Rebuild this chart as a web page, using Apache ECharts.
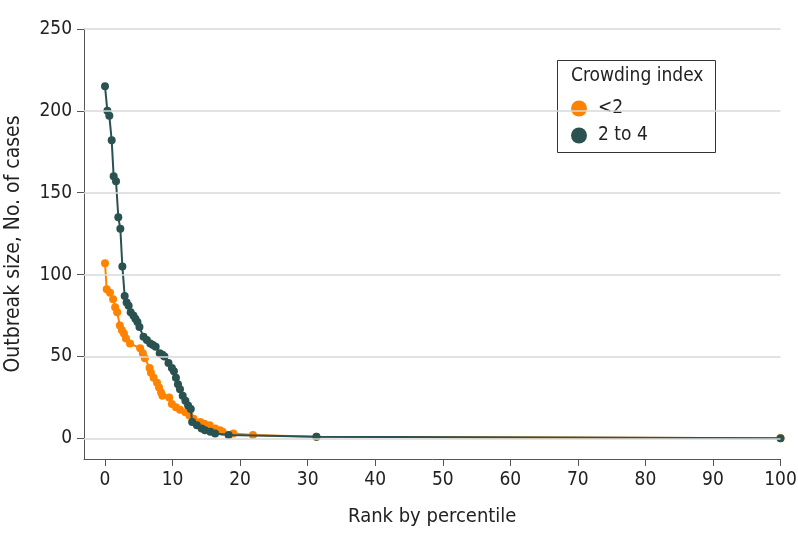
<!DOCTYPE html>
<html><head><meta charset="utf-8">
<script src="https://cdn.jsdelivr.net/npm/echarts@6/dist/echarts.min.js"></script>
<style>html,body{margin:0;padding:0;background:#fff}#c{width:798px;height:545px}</style>
</head><body><div id="c"></div>
<script>
const FONT = "'DejaVu Sans Condensed','Liberation Sans Narrow','Roboto',sans-serif";
const seriesNames = ['<2', '2 to 4'];
const colors = ['#FF8300', '#2A5250'];
const xTicks = [0,10,20,30,40,50,60,70,80,90,100];
const yTicks = [0,50,100,150,200,250];

const lowX = [0,0.25,0.74,1.2,1.5,1.8,2.2,2.5,2.8,3.1,3.7,5.2,5.6,5.9,6.6,6.8,7.2,7.7,8.0,8.3,8.5,9.5,9.9,10.5,11.1,11.9,12.5,13.1,14.1,14.7,15.5,16.3,17.0,17.4,19.0,21.9,31.3,100];
const lowY = [107,91,89,85,80,77,69,66,64,61,58,55,52,49,43,40,37,34,31,28,26,25,21,19,17.5,16,14,12,10,9,8,6,5,4,3,2,1,0];

const highX = [0,0.35,0.64,0.99,1.28,1.63,1.97,2.27,2.57,2.91,3.2,3.5,3.8,4.2,4.5,4.8,5.1,5.7,6.2,6.7,7.1,7.5,8.1,8.5,8.8,9.4,9.9,10.2,10.5,10.8,11.1,11.5,11.9,12.3,12.7,12.9,13.6,14.3,14.8,15.6,16.3,18.3,31.3,100];
const highY = [215,200,197,182,160,157,135,128,105,87,83,81,77,75,73,71,68,62,60,58,57,56,52,51,50,46,43,41,37,33,30,26,23,20,18,10,8,6,5,4,3,2,1,0];

const zip = (xs, ys) => xs.map((x, i) => [x, ys[i]]);

const chart = echarts.init(document.getElementById('c'));
chart.setOption({
  animation: false,
  backgroundColor: '#fff',
  textStyle: { fontFamily: FONT },
  grid: { left: 84, right: 17.5, top: 29, bottom: 86, containLabel: false, outerBoundsMode: 'none' },
  xAxis: {
    type: 'value', min: -3.11, max: 100,
    name: 'Rank by percentile', nameLocation: 'middle', nameGap: 48,
    nameTextStyle: { fontSize: 20, color: '#222', fontFamily: FONT },
    axisLine: { show: true, onZero: false, lineStyle: { color: '#555', width: 1 } },
    axisTick: { show: true, length: 7, lineStyle: { color: '#555' }, customValues: xTicks },
    axisLabel: { fontSize: 19, color: '#222', margin: 12, fontFamily: FONT, customValues: xTicks },
    splitLine: { show: false }
  },
  yAxis: {
    type: 'value', min: -12.6, max: 250,
    name: 'Outbreak size, No. of cases', nameLocation: 'middle', nameGap: 60, nameRotate: 90,
    nameTextStyle: { fontSize: 21, color: '#222', fontFamily: FONT },
    axisLine: { show: true, onZero: false, lineStyle: { color: '#555', width: 1 } },
    axisTick: { show: true, length: 7, lineStyle: { color: '#555' }, customValues: yTicks },
    axisLabel: { fontSize: 19, color: '#222', margin: 12, fontFamily: FONT, customValues: yTicks },
    splitLine: { show: false }
  },
  legend: {
    left: 566, top: 94, orient: 'vertical', itemGap: 8,
    icon: 'circle', itemWidth: 16, itemHeight: 16,
    textStyle: { fontSize: 19, color: '#222', fontFamily: FONT, padding: [0, 0, 0, 6] },
    data: seriesNames
  },
  graphic: [
    { type: 'rect', left: 557, top: 60, shape: { width: 158, height: 92 },
      style: { fill: '#fff', stroke: '#333', lineWidth: 1 }, z: -1 },
    { type: 'text', left: 571, top: 67,
      style: { text: 'Crowding index', fontSize: 19, fill: '#222', fontFamily: FONT } }
  ],
  series: [
    { type: 'line', name: 'grid', silent: true, data: [], z: 1,
      markLine: { silent: true, symbol: 'none', label: { show: false },
        lineStyle: { color: '#d9d9d9', width: 1.5, type: 'solid' },
        data: yTicks.map(v => ({ yAxis: v })) } },
    { type: 'line', name: seriesNames[0], data: zip(lowX, lowY), z: 3,
      color: colors[0], symbol: 'circle', symbolSize: 8, showSymbol: true,
      lineStyle: { width: 2, color: colors[0] }, itemStyle: { color: colors[0] } },
    { type: 'line', name: seriesNames[1], data: zip(highX, highY), z: 4,
      color: colors[1], symbol: 'circle', symbolSize: 8, showSymbol: true,
      lineStyle: { width: 2, color: colors[1] }, itemStyle: { color: colors[1] } }
  ]
});
</script></body></html>
